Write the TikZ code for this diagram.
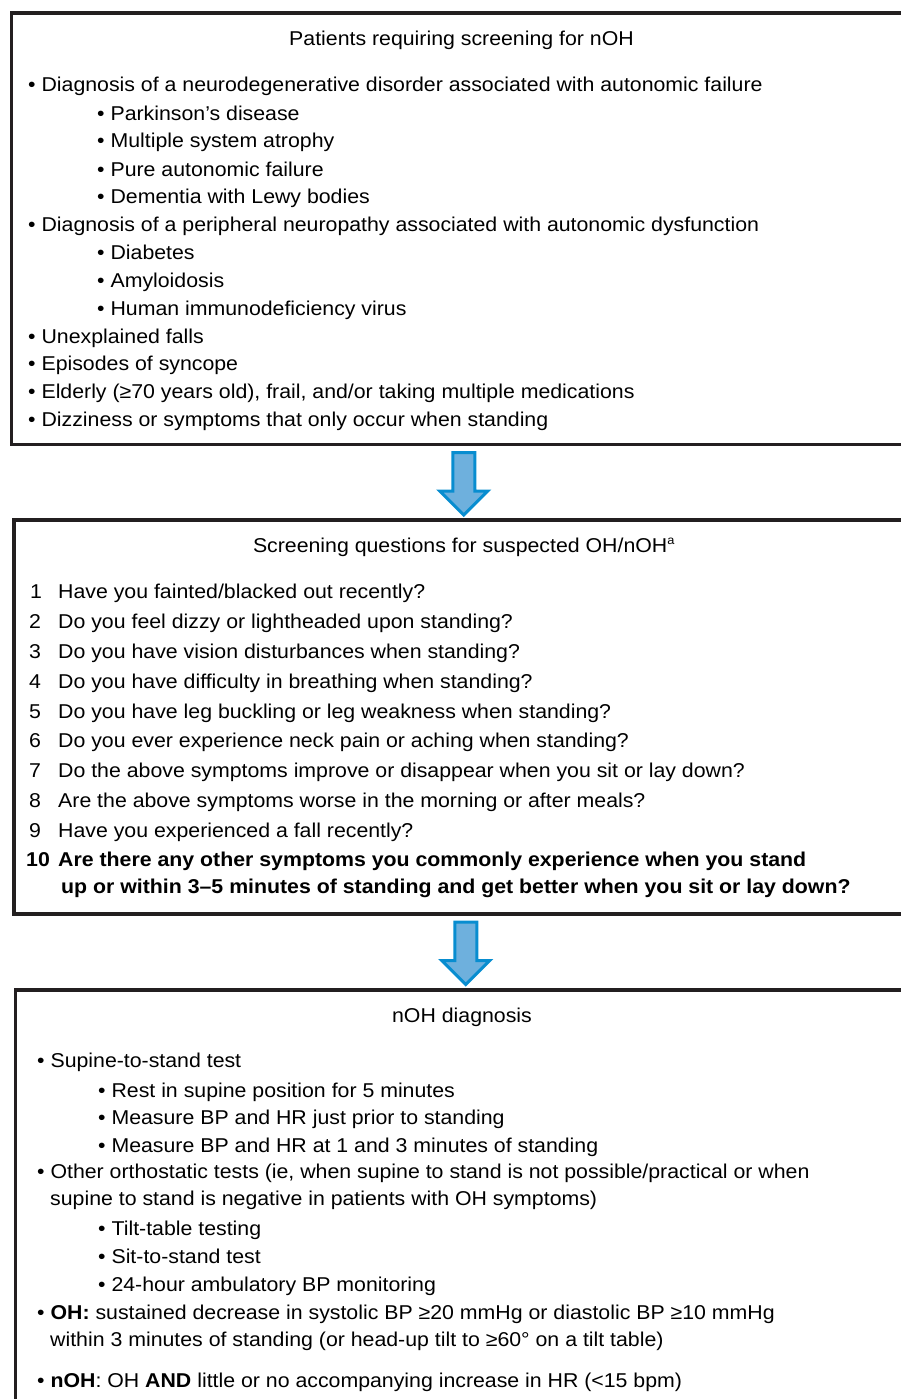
\documentclass[tikz,border=0pt]{standalone}
\usepackage{fontspec}
\setmainfont[FakeStretch=1.065]{Liberation Sans}
\usetikzlibrary{calc,positioning}

\definecolor{boxline}{RGB}{35,31,32}
\definecolor{arrowfill}{RGB}{110,176,221}
\definecolor{arrowline}{RGB}{8,141,208}

\begin{document}
\begin{tikzpicture}[x=1pt,y=-1pt]

\tikzstyle{flowbox} = [rectangle,draw=boxline,line width=3.5pt,inner sep=0,anchor=north west]%
\tikzstyle{blockarrow} = [draw=arrowline,fill=arrowfill,line width=3pt]%
\tikzstyle{txt} = [anchor=base west,inner sep=0,font=\fontsize{20}{24}\selectfont]%
\tikzstyle{boxtitle} = [txt,anchor=base]%
\tikzstyle{num} = [txt]%

\useasboundingbox (0,0) rectangle (901,1399);
\clip (0,0) rectangle (901,1399);

\node[flowbox,minimum width=905,minimum height=431] (patients) at (9.5,11.5) {};
\node[flowbox,minimum width=904,minimum height=394] (questions) at (12,518) {};
\node[flowbox,minimum width=903,minimum height=450] (diagnosis) at (13.5,988) {};

% box 1
\node[boxtitle] (ptitle) at (461.5,46) {Patients requiring screening for nOH};
\node[txt] (neuro) at (28,92) {• Diagnosis of a neurodegenerative disorder associated with autonomic failure};
\node[txt] (pd) at (97,121) {• Parkinson’s disease};
\node[txt] (msa) at (97,148) {• Multiple system atrophy};
\node[txt] (paf) at (97,177) {• Pure autonomic failure};
\node[txt] (dlb) at (97,204) {• Dementia with Lewy bodies};
\node[txt] (periph) at (28,231) {• Diagnosis of a peripheral neuropathy associated with autonomic dysfunction};
\node[txt] (diab) at (97,259) {• Diabetes};
\node[txt] (amyl) at (97,287) {• Amyloidosis};
\node[txt] (hiv) at (97,315) {• Human immunodeficiency virus};
\node[txt] (falls) at (28,343) {• Unexplained falls};
\node[txt] (sync) at (28,370) {• Episodes of syncope};
\node[txt] (elder) at (28,398) {• Elderly (≥70 years old), frail, and/or taking multiple medications};
\node[txt] (dizzy) at (28,426) {• Dizziness or symptoms that only occur when standing};

% box 2
\node[boxtitle] (qtitle) at (464,552) {Screening questions for suspected OH/nOH\textsuperscript{\fontsize{12}{12}\selectfont a}};
\node[num] (n1) at (30,598) {1}; \node[txt] (q1) at (58,598) {Have you fainted/blacked out recently?};
\node[num] (n2) at (29,628) {2}; \node[txt] (q2) at (58,628) {Do you feel dizzy or lightheaded upon standing?};
\node[num] (n3) at (29,658) {3}; \node[txt] (q3) at (58,658) {Do you have vision disturbances when standing?};
\node[num] (n4) at (29,688) {4}; \node[txt] (q4) at (58,688) {Do you have difficulty in breathing when standing?};
\node[num] (n5) at (29,718) {5}; \node[txt] (q5) at (58,718) {Do you have leg buckling or leg weakness when standing?};
\node[num] (n6) at (29,747) {6}; \node[txt] (q6) at (58,747) {Do you ever experience neck pain or aching when standing?};
\node[num] (n7) at (29,777) {7}; \node[txt] (q7) at (58,777) {Do the above symptoms improve or disappear when you sit or lay down?};
\node[num] (n8) at (29,807) {8}; \node[txt] (q8) at (58,807) {Are the above symptoms worse in the morning or after meals?};
\node[num] (n9) at (29,837) {9}; \node[txt] (q9) at (58,837) {Have you experienced a fall recently?};
\node[num,font=\fontsize{20}{24}\selectfont\bfseries] (n10) at (26,866) {10};
\node[txt,font=\fontsize{20}{24}\selectfont\bfseries] (q10) at (58,866) {Are there any other symptoms you commonly experience when you stand};
\node[txt,font=\fontsize{20}{24}\selectfont\bfseries] (q10b) at (61,893) {up or within 3–5 minutes of standing and get better when you sit or lay down?};

% box 3
\node[boxtitle] (dtitle) at (462,1022) {nOH diagnosis};
\node[txt] (sts) at (37,1067) {• Supine-to-stand test};
\node[txt] (rest) at (98,1097) {• Rest in supine position for 5 minutes};
\node[txt] (prior) at (98,1124) {• Measure BP and HR just prior to standing};
\node[txt] (at13) at (98,1152) {• Measure BP and HR at 1 and 3 minutes of standing};
\node[txt] (other) at (37,1178) {• Other orthostatic tests (ie, when supine to stand is not possible/practical or when};
\node[txt] (otherb) at (50,1205) {supine to stand is negative in patients with OH symptoms)};
\node[txt] (tilt) at (98,1235) {• Tilt-table testing};
\node[txt] (sit) at (98,1263) {• Sit-to-stand test};
\node[txt] (amb) at (98,1291) {• 24-hour ambulatory BP monitoring};
\node[txt] (oh) at (37,1319) {• \textbf{OH:} sustained decrease in systolic BP ≥20 mmHg or diastolic BP ≥10 mmHg};
\node[txt] (ohb) at (50,1346) {within 3 minutes of standing (or head-up tilt to ≥60° on a tilt table)};
\node[txt] (noh) at (37,1387) {• \textbf{nOH}: OH \textbf{AND} little or no accompanying increase in HR (<15 bpm)};

% arrows between the boxes
\foreach \b in {patients,questions}
  \draw[blockarrow] ($(\b.south)+(-11,6.5)$) -- ++(22,0) -- ++(0,38.5) -- ++(13,0)
    -- ($(\b.south)+(0,69)$) -- ++(-24,-24) -- ++(13,0) -- cycle;

\end{tikzpicture}
\end{document}
